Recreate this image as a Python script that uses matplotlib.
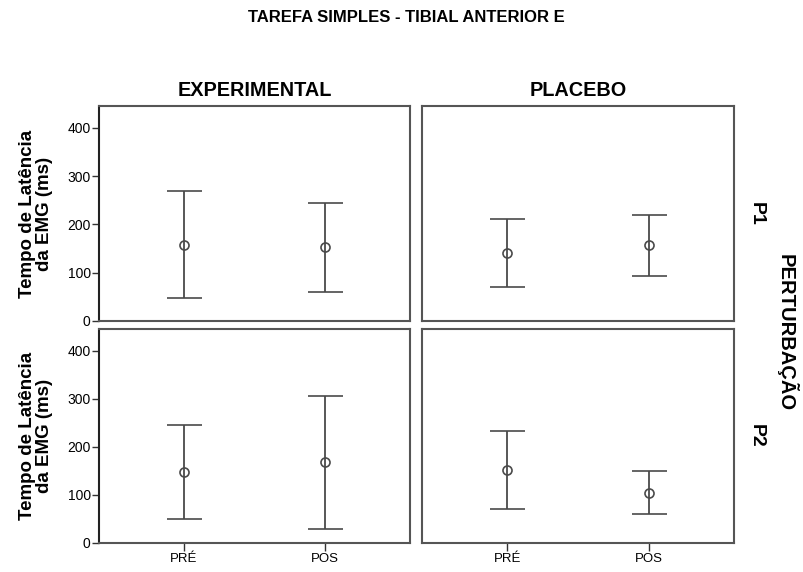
import matplotlib
matplotlib.use("Agg")
import matplotlib.pyplot as plt
import numpy as np

plt.rcParams['font.family'] = ['Liberation Sans', 'DejaVu Sans']

categories = ["PRÉ", "POS"]
groups = ["EXPERIMENTAL", "PLACEBO"]
rows = ["P1", "P2"]

# mean, lower, upper per panel (row, group)
exp_p1_mean = [157, 153]
exp_p1_low = [48, 61]
exp_p1_high = [269, 245]

pla_p1_mean = [140, 157]
pla_p1_low = [70, 94]
pla_p1_high = [211, 220]

exp_p2_mean = [148, 168]
exp_p2_low = [49, 29]
exp_p2_high = [246, 306]

pla_p2_mean = [151, 104]
pla_p2_low = [71, 61]
pla_p2_high = [232, 149]

yticks = [0, 100, 200, 300, 400]

data = {
    (0, 0): (exp_p1_mean, exp_p1_low, exp_p1_high),
    (0, 1): (pla_p1_mean, pla_p1_low, pla_p1_high),
    (1, 0): (exp_p2_mean, exp_p2_low, exp_p2_high),
    (1, 1): (pla_p2_mean, pla_p2_low, pla_p2_high),
}

W, H = 804, 572
fig = plt.figure(figsize=(W / 100, H / 100), dpi=100)

col_x = [(99, 410), (422, 734)]
row_y = [(106, 321), (329, 543)]

line_col = "#4a4a4a"
box_col = "#555555"

axes = {}
for r in range(2):
    for c in range(2):
        x0, x1 = col_x[c]
        y0, y1 = row_y[r]
        ax = fig.add_axes([x0 / W, 1 - y1 / H, (x1 - x0) / W, (y1 - y0) / H])
        axes[(r, c)] = ax
        mean, low, high = data[(r, c)]
        xs = np.arange(len(categories))
        mean = np.array(mean, float)
        yerr = np.vstack([mean - np.array(low), np.array(high) - mean])
        ax.errorbar(xs, mean, yerr=yerr, fmt='o', color=line_col, ecolor=line_col,
                    elinewidth=1.3, capsize=12.6, capthick=1.3,
                    markersize=6.5, markerfacecolor='none', markeredgecolor=line_col,
                    markeredgewidth=1.2)
        ax.set_xlim(-0.6, 1.6)
        ax.set_ylim(0, 445)
        for s in ax.spines.values():
            s.set_color(box_col)
            s.set_linewidth(1.5)
        if c == 0:
            ax.set_yticks(yticks)
            ax.tick_params(axis='y', length=5, width=1, color='#333333', labelsize=10, pad=1)
            ax.spines['left'].set_color('#222222')
            yc = 1 - (y0 + y1) / 2 / H
            fig.text(36 / W, yc, "Tempo de Latência\nda EMG (ms)", rotation=90,
                     ha='center', va='center', fontsize=13.5, fontweight='bold',
                     linespacing=1.0, multialignment='center')
        else:
            ax.set_yticks([])
        if r == 1:
            ax.set_xticks(xs)
            ax.set_xticklabels(categories)
            ax.tick_params(axis='x', length=6, width=1, color='#333333', labelsize=9.5, pad=1)
        else:
            ax.set_xticks([])
        if r == 0:
            ax.set_title(groups[c], fontsize=14.3, fontweight='bold', pad=7)
        if c == 1:
            ax.text(1.07, 0.5, rows[r], transform=ax.transAxes, rotation=-90,
                    ha='center', va='center', fontsize=14, fontweight='bold')

fig.text(406 / W, 1 - 18 / H, "TAREFA SIMPLES - TIBIAL ANTERIOR E", ha='center', va='center',
         fontsize=12, fontweight='bold')
fig.text(787 / W, 1 - 333 / H, "PERTURBAÇÃO", rotation=-90, ha='center', va='center',
         fontsize=14.5, fontweight='bold')

fig.savefig("out.png", dpi=100)
